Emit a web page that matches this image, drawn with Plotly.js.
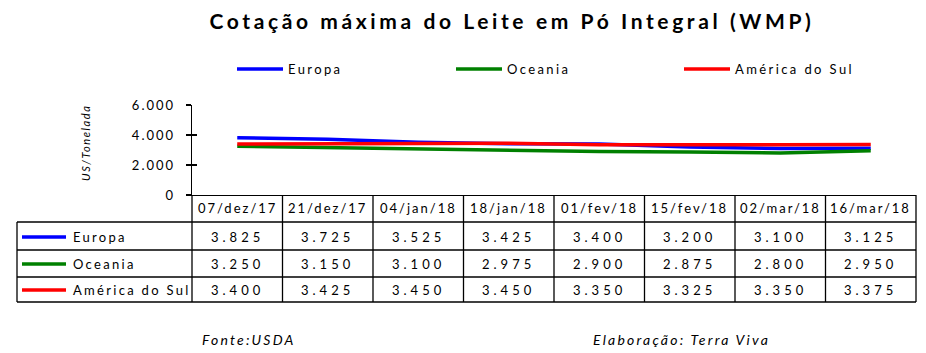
<!DOCTYPE html>
<html><head><meta charset="utf-8">
<script src="https://cdn.plot.ly/plotly-3.0.1.min.js"></script>
<style>
body{margin:0;background:#fff}
#chart{width:926px;height:353px}
svg text{letter-spacing:2px}
</style></head><body><div id="chart"></div>
<script>
const categories = ['07/dez/17','21/dez/17','04/jan/18','18/jan/18','01/fev/18','15/fev/18','02/mar/18','16/mar/18'];
const europa = [3825,3725,3525,3425,3400,3200,3100,3125];
const oceania = [3250,3150,3100,2975,2900,2875,2800,2950];
const americaSul = [3400,3425,3450,3450,3350,3325,3350,3375];
const seriesNames = ['Europa','Oceania','América do Sul'];
const yTickVals = [0,2000,4000,6000];

const seriesData = [europa, oceania, americaSul];
const colors = ['#0000FF','#008000','#FF0000'];
const FONT = 'Lato, "Open Sans", sans-serif';

const L = 192, R = 916, T = 105, B = 195;
const W = R - L, H = B - T;
const px = x => (x - L) / W;
const py = y => (B - y) / H;
const colW = W / categories.length;
const sp = (t, s) => '<span style="letter-spacing:' + s + 'px">' + t + '</span>';

function fmt(n){ return n.toString().replace(/\B(?=(\d{3})+(?!\d))/g,'.'); }

const traces = seriesData.map((d,i)=>({
  type:'scatter', mode:'lines', x:categories, y:d, name:seriesNames[i],
  line:{color:colors[i], width:3.5}, showlegend:false
}));
// invisible trace on overlay axis for cross ticks
traces.push({type:'scatter', mode:'lines', x:[categories[0]], y:[null], yaxis:'y2', showlegend:false, hoverinfo:'skip'});

const shapes = [];
const ann = [];
const line = (x0,y0,x1,y1,c,w)=>shapes.push({type:'line',xref:'paper',yref:'paper',
  x0:px(x0),y0:py(y0),x1:px(x1),y1:py(y1),line:{color:c||'#000',width:w||1.3}});

// legend (manual)
const legKeyX = [237, 456, 684];
seriesNames.forEach((n,i)=>{
  line(legKeyX[i], 69, legKeyX[i]+46, 69, colors[i], 3.5);
  ann.push({xref:'paper',yref:'paper',x:px(legKeyX[i]+49),y:py(69),text:sp(n,2.4),showarrow:false,
    font:{family:FONT,size:13,color:'#000'},xanchor:'left',yanchor:'middle'});
});

// table
const rowLines = [222, 250, 277, 302];
const rowCenters = [237, 264, 290];
for(let i=0;i<=categories.length;i++){ const x=L+i*colW; line(x,195,x,302); }
rowLines.forEach(y=>line(17,y,R,y));
line(17,222,17,302);

categories.forEach((c,i)=>ann.push({xref:'x',yref:'paper',x:i,y:py(208),text:sp(c,2),showarrow:false,
  font:{family:FONT,size:13,color:'#000'},xanchor:'center',yanchor:'middle'}));
seriesData.forEach((d,r)=>{
  line(22,rowCenters[r],66,rowCenters[r],colors[r],3.5);
  ann.push({xref:'paper',yref:'paper',x:px(71),y:py(rowCenters[r]),text:sp(seriesNames[r],2.3),showarrow:false,
    font:{family:FONT,size:13,color:'#000'},xanchor:'left',yanchor:'middle'});
  d.forEach((v,i)=>ann.push({xref:'x',yref:'paper',x:i,y:py(rowCenters[r]),text:sp(fmt(v),4),showarrow:false,
    font:{family:FONT,size:13,color:'#000'},xanchor:'center',yanchor:'middle'}));
});
ann.push({xref:'paper',yref:'paper',x:px(85),y:py(143),text:'<i>'+sp('US/Tonelada',1.6)+'</i>',textangle:-90,showarrow:false,
  font:{family:FONT,size:11,color:'#000'},xanchor:'center',yanchor:'middle'});
ann.push({xref:'paper',yref:'paper',x:px(200),y:py(339),text:'<i>'+sp('Fonte:USDA',2.2)+'</i>',showarrow:false,
  font:{family:FONT,size:14,color:'#000'},xanchor:'left',yanchor:'middle'});
ann.push({xref:'paper',yref:'paper',x:px(591),y:py(339),text:'<i>'+sp('Elaboração: Terra Viva',2.2)+'</i>',showarrow:false,
  font:{family:FONT,size:14,color:'#000'},xanchor:'left',yanchor:'middle'});

const yaxBase = {range:[0,6000], tickvals:yTickVals, ticklen:5, tickcolor:'#000', tickwidth:1.3,
  showgrid:false, zeroline:false, fixedrange:true};
const layout = {
  width:926, height:353,
  margin:{l:L, r:926-R, t:T, b:353-B},
  paper_bgcolor:'#fff', plot_bgcolor:'#fff',
  separators:',.',
  showlegend:false,
  title:{text:'<b>'+sp('Cotação máxima do Leite em Pó Integral (WMP)',3.6)+'</b>', xref:'container', x:512/926, xanchor:'center',
    yref:'container', y:1-22/353, yanchor:'middle', font:{family:FONT,size:21,color:'#000'}},
  xaxis:{type:'category', range:[-0.5, categories.length-0.5], showticklabels:false, ticks:'',
    showline:true, linecolor:'#000', linewidth:1.3, showgrid:false, zeroline:false, fixedrange:true},
  yaxis:Object.assign({}, yaxBase, {tickformat:',d', ticks:'outside', ticklabelstandoff:8,
    showline:true, linecolor:'#000', linewidth:1.3,
    tickfont:{family:FONT,size:13,color:'#000'}}),
  yaxis2:Object.assign({}, yaxBase, {overlaying:'y', side:'left', ticks:'inside', showticklabels:false, showline:false}),
  shapes:shapes, annotations:ann
};
Plotly.newPlot('chart', traces, layout, {staticPlot:true, displayModeBar:false});
</script></body></html>
